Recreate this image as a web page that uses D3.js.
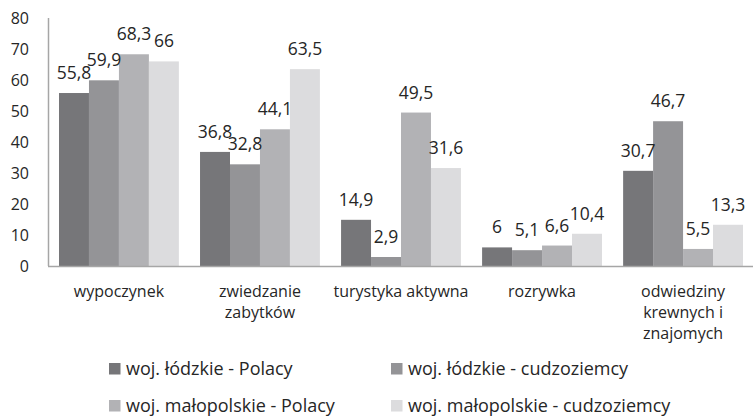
<!DOCTYPE html>
<html>
<head>
<meta charset="utf-8">
<script src="https://cdn.jsdelivr.net/npm/d3@7"></script>
<style>
  html, body { margin: 0; padding: 0; background: #fff; }
  svg { display: block; font-family: "Open Sans", sans-serif; }
</style>
</head>
<body>
<svg id="chart" width="753" height="416"></svg>
<script>
const categories = [
  ["wypoczynek"],
  ["zwiedzanie", "zabytków"],
  ["turystyka aktywna"],
  ["rozrywka"],
  ["odwiedziny", "krewnych i", "znajomych"]
];
const seriesNames = [
  "woj. łódzkie - Polacy",
  "woj. łódzkie - cudzoziemcy",
  "woj. małopolskie - Polacy",
  "woj. małopolskie - cudzoziemcy"
];
const lodzkiePolacy = [55.8, 36.8, 14.9, 6, 30.7];
const lodzkieCudzoziemcy = [59.9, 32.8, 2.9, 5.1, 46.7];
const malopolskiePolacy = [68.3, 44.1, 49.5, 6.6, 5.5];
const malopolskieCudzoziemcy = [66, 63.5, 31.6, 10.4, 13.3];
const yTicks = [0, 10, 20, 30, 40, 50, 60, 70, 80];
const colors = ["#767679", "#949497", "#b2b2b5", "#dcdcde"];

const seriesValues = [lodzkiePolacy, lodzkieCudzoziemcy, malopolskiePolacy, malopolskieCudzoziemcy];
const catKeys = categories.map(c => c.join(" "));

const svg = d3.select("#chart");
const mLeft = 48, mRight = 754, mTop = 18, mBottom = 266;

const x0 = d3.scaleBand().domain(catKeys).range([mLeft, mRight]).paddingInner(0.15).paddingOuter(0.078);
const x1 = d3.scaleBand().domain(d3.range(4)).range([0, x0.bandwidth()]);
const y = d3.scaleLinear().domain([0, 80]).range([mBottom, mTop]);

// y axis tick labels
const yAxis = d3.axisLeft(y).tickValues(yTicks).tickSize(0).tickPadding(19).tickFormat(d => d);
const gy = svg.append("g").attr("transform", `translate(${mLeft},0)`).call(yAxis);
gy.select(".domain").remove();
gy.selectAll("text").attr("font-size", 16).attr("fill", "#262626").attr("font-family", "Open Sans, sans-serif");

// bars
const groups = svg.append("g").selectAll("g").data(catKeys).join("g")
  .attr("transform", d => `translate(${x0(d)},0)`);
groups.selectAll("rect")
  .data((d, i) => seriesValues.map((s, j) => ({ j, v: s[i] })))
  .join("rect")
  .attr("x", d => x1(d.j))
  .attr("width", x1.bandwidth())
  .attr("y", d => y(d.v))
  .attr("height", d => y(0) - y(d.v))
  .attr("fill", d => colors[d.j]);

groups.selectAll("text.val")
  .data((d, i) => seriesValues.map((s, j) => ({ j, v: s[i] })))
  .join("text")
  .attr("class", "val")
  .attr("x", d => x1(d.j) + x1.bandwidth() / 2)
  .attr("y", d => y(d.v) - 14)
  .attr("text-anchor", "middle")
  .attr("font-size", 17.5)
  .attr("fill", "#262626")
  .text(d => String(d.v).replace(".", ","));

// axes lines
svg.append("line").attr("x1", mLeft + 0.5).attr("x2", mLeft + 0.5).attr("y1", mTop).attr("y2", mBottom)
  .attr("stroke", "#a6a6a6").attr("stroke-width", 1.5);
svg.append("line").attr("x1", mLeft).attr("x2", 753).attr("y1", mBottom + 0.5).attr("y2", mBottom + 0.5)
  .attr("stroke", "#a6a6a6").attr("stroke-width", 1.5);

// category labels
const gx = svg.append("g");
categories.forEach((lines, i) => {
  const cx = x0(catKeys[i]) + x0.bandwidth() / 2;
  const t = gx.append("text")
    .attr("text-anchor", "middle")
    .attr("font-size", 16)
    .attr("fill", "#262626");
  lines.forEach((ln, k) => {
    t.append("tspan").attr("x", cx).attr("y", 297 + k * 21).text(ln);
  });
});

// legend
const legPos = [[109, 374.5], [391, 374.5], [109, 411.5], [391, 411.5]];
const leg = svg.append("g").selectAll("g").data(seriesNames).join("g")
  .attr("transform", (d, i) => `translate(${legPos[i][0]},${legPos[i][1]})`);
leg.append("rect").attr("x", 0).attr("y", -11.5).attr("width", 11.5).attr("height", 11.5)
  .attr("fill", (d, i) => colors[i]);
leg.append("text").attr("x", 17).attr("y", 0).attr("font-size", 18).attr("fill", "#262626").text(d => d);
</script>
</body>
</html>
